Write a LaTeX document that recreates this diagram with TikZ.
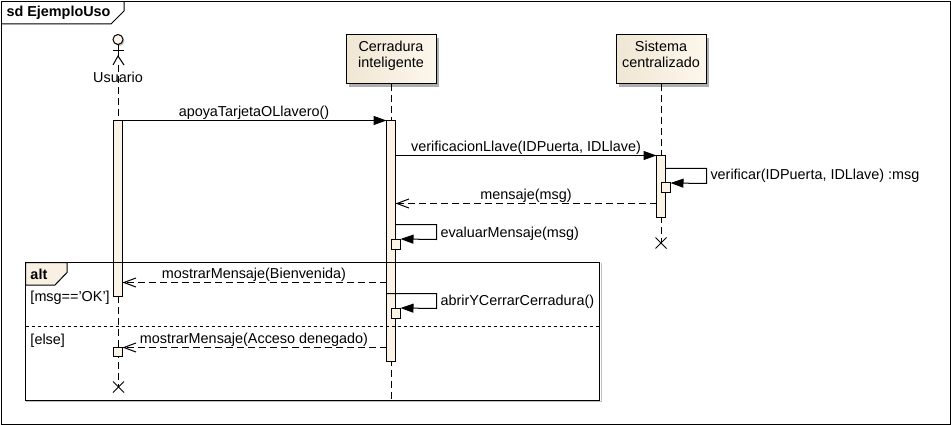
\documentclass[tikz,border=0pt]{standalone}
\usepackage{fontspec}
\usepackage{xcolor}
\setmainfont{Liberation Sans}
\usetikzlibrary{arrows.meta, shapes.misc, shadows}
\definecolor{uml-light}{RGB}{253,247,236}
\definecolor{uml-dark}{RGB}{240,230,212}
\definecolor{uml-fill}{RGB}{252,243,231}
\definecolor{uml-tab}{RGB}{248,240,226}

\begin{document}
\begin{tikzpicture}[
  x=1pt, y=-1pt, line width=1pt,
  every node/.style={font=\fontsize{14.4}{16}\selectfont},
  part/.style={draw, inner sep=0pt, outer sep=0pt, minimum width=90pt, minimum height=49pt, align=center, anchor=north, text depth=11pt,
    left color=uml-dark, right color=uml-light, drop shadow={shadow xshift=3pt, shadow yshift=-3pt, fill=black!45, opacity=.7}},
  activation/.style={draw, fill=uml-fill, inner sep=0pt, outer sep=0pt, minimum width=9pt, anchor=north},
  endmark/.style={cross out, draw, inner sep=0pt, outer sep=0pt, minimum size=11pt},
  lifeline/.style={dash pattern=on 7pt off 4pt},
  call/.style={-{Triangle[length=13pt, width=9pt]}},
  reply/.style={dash pattern=on 7pt off 4pt, -{Straight Barb[length=12pt, width=9pt]}},
  msglabel/.style={inner sep=0pt, anchor=base},
]
  \useasboundingbox (0,0) rectangle (951,425);

  % Frame
  \node[draw, inner sep=0pt, outer sep=0pt, minimum width=949pt, minimum height=423pt, anchor=north west] (frame) at (1.5,1.5) {};
  \node[inner sep=0pt, anchor=base west, font=\fontsize{14.4}{16}\selectfont\bfseries] (framelabel) at (6,17) {sd EjemploUso};
  \draw (frame.west |- 0,24) -- (111,24) -- (124,11) -- (124,1.5);

  % Participants
  \node[draw, circle, fill=uml-fill, inner sep=0pt, outer sep=0pt, minimum size=10pt, drop shadow={shadow xshift=1.5pt, shadow yshift=-1.5pt, fill=black!40, opacity=.6}] (head) at (118,39.5) {};
  \coordinate (hip) at (118,56);
  \draw (head.south) -- (hip);
  \draw (113,50.5) -- (124,50.5);
  \draw (113,65) -- (hip) -- (124,65);
  \node[part] (lock) at (391,35) {Cerradura\\inteligente};
  \node[part] (server) at (661,35) {Sistema\\centralizado};

  % Lifelines
  \node[endmark] (endUser) at (118.5,387) {};
  \node[endmark] (endServer) at (661,243) {};
  \coordinate (endLock) at (391,400);
  \draw[lifeline] (118.5,65) -- (endUser.center);
  \draw[lifeline] (lock.south) -- (endLock);
  \draw[lifeline] (server.south) -- (endServer.center);
  \node[inner sep=0pt, anchor=base] (user) at (118,83) {Usuario};

  % Activations
  \node[activation, minimum height=176pt] (actUser) at (118,120.5) {};
  \node[activation, minimum height=241pt] (actLock) at (391,120.5) {};
  \node[activation, minimum height=62pt] (actServer) at (661,155.5) {};
  \node[activation, minimum height=10pt] (actCheck) at (666,183) {};
  \node[activation, minimum height=10pt] (actEval) at (396,239) {};
  \node[activation, minimum height=10pt] (actOpen) at (396,308) {};
  \node[activation, minimum height=9pt] (actDenied) at (118,347) {};

  % Messages
  \draw[call] (actUser.north east) -- (actLock.north west);
  \node[msglabel] (m1) at (254,117) {apoyaTarjetaOLlavero()};
  \draw[call] (actLock.east |- 0,155.5) -- (actServer.north west);
  \node[msglabel] (m2) at (526,152) {verificacionLlave(IDPuerta, IDLlave)};
  \draw[call] (actServer.east |- 0,168.5) -- (706.5,168.5) -- (706.5,183.5) -- (actCheck.north east);
  \node[msglabel, anchor=base west] (m3) at (710,180) {verificar(IDPuerta, IDLlave) :msg};
  \draw[reply] (actServer.west |- 0,203.5) -- (actLock.east |- 0,203.5);
  \node[msglabel] (m4) at (526,200) {mensaje(msg)};
  \draw[call] (actLock.east |- 0,224.5) -- (436.5,224.5) -- (436.5,239.5) -- (actEval.north east);
  \node[msglabel, anchor=base west] (m5) at (440,237) {evaluarMensaje(msg)};
  \draw[reply] (actLock.west |- 0,282.5) -- (actUser.east |- 0,282.5);
  \node[msglabel] (m6) at (254,278) {mostrarMensaje(Bienvenida)};
  \draw[call] (actLock.west |- 0,293.5) -- (436.5,293.5) -- (436.5,308.5) -- (actOpen.north east);
  \node[msglabel, anchor=base west] (m7) at (440,305) {abrirYCerrarCerradura()};
  \draw[reply] (actLock.west |- 0,347.5) -- (actDenied.east |- 0,347.5);
  \node[msglabel] (m8) at (254,343) {mostrarMensaje(Acceso denegado)};

  % Alt fragment
  \node[draw, inner sep=0pt, outer sep=0pt, minimum width=574pt, minimum height=138pt, anchor=north west] (alt) at (25.5,262.5) {};
  \draw[draw=black!25] (26,401) -- (601,401) -- (601,263);
  \draw[fill=uml-tab] (alt.north west) -- (67,262.5) -- (67,272.5) -- (55,285) -- (25.5,285) -- cycle;
  \node[inner sep=0pt, anchor=base west, font=\fontsize{14.4}{16}\selectfont\bfseries] (altlabel) at (30,279) {alt};
  \node[inner sep=0pt, anchor=base west] (guardOk) at (30,301) {[msg=='OK']};
  \draw[dashed] (alt.west |- 0,326.5) -- (alt.east |- 0,326.5);
  \node[inner sep=0pt, anchor=base west] (guardElse) at (30,344) {[else]};
\end{tikzpicture}
\end{document}
